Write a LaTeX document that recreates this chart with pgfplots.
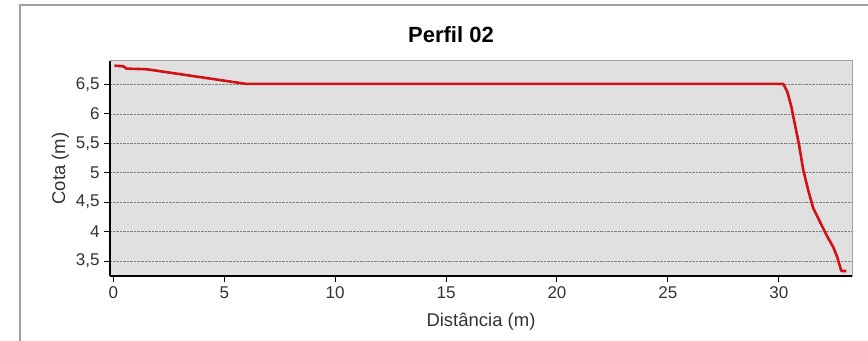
\documentclass[border=0pt]{standalone}
\usepackage{fontspec}
\setmainfont{Liberation Sans}
\usepackage{pgfplots}
\pgfplotsset{compat=1.18}

\definecolor{plotbg}{RGB}{224,224,224}
\definecolor{framegray}{RGB}{160,160,160}
\definecolor{profilered}{RGB}{208,18,24}

\begin{document}
\begin{tikzpicture}[x=1bp,y=1bp]
\path[use as bounding box] (0,0) rectangle (868,340);
% outer chart frame
\draw[framegray, line width=1.2bp] (20,-10) -- (20,335) -- (880,335);
% title
\node[anchor=base, font=\fontsize{22bp}{24bp}\selectfont\bfseries] at (451,298) {Perfil 02};

\begin{axis}[
  at={(110bp,64bp)}, anchor=south west,
  scale only axis, width=742bp, height=215bp,
  xmin=-0.15, xmax=33.3, ymin=3.245, ymax=6.9,
  axis background/.style={fill=plotbg, draw=framegray, line width=1bp},
  axis x line*=bottom, axis y line*=left,
  axis line style={black, line width=1.4bp},
  xtick={0,5,...,30},
  ytick={3.5,4,4.5,5,5.5,6,6.5},
  tick align=outside,
  major tick length=6bp,
  tick style={black, line width=1bp},
  ymajorgrids,
  grid style={densely dotted, gray, line width=0.7bp},
  /pgf/number format/use comma,
  /pgf/number format/assume math mode=true,
  ticklabel style={font=\fontsize{17bp}{19bp}\selectfont, text=black!80},
  yticklabel style={xshift=-1bp},
  xticklabel style={yshift=-1bp},
  xlabel={Distância (m)},
  ylabel={Cota (m)},
  label style={font=\fontsize{18.5bp}{20bp}\selectfont, text=black!80},
  xlabel style={at={(axis description cs:0.5,0)}, anchor=base, yshift=-50bp},
  ylabel style={at={(axis description cs:-0.0606,0.5)}, anchor=base, rotate=0},
]
\addplot[profilered, line width=2.6bp, line join=round] coordinates {
  (0.05,6.82) (0.45,6.81) (0.6,6.77) (1.5,6.76) (6.0,6.51)
  (30.2,6.51) (30.38,6.38) (30.56,6.13) (30.71,5.85) (30.9,5.50)
  (31.1,5.05) (31.32,4.71) (31.55,4.40) (31.85,4.17) (32.15,3.94)
  (32.45,3.74) (32.63,3.57) (32.82,3.33) (33.05,3.33)
};
\end{axis}
\end{tikzpicture}
\end{document}
